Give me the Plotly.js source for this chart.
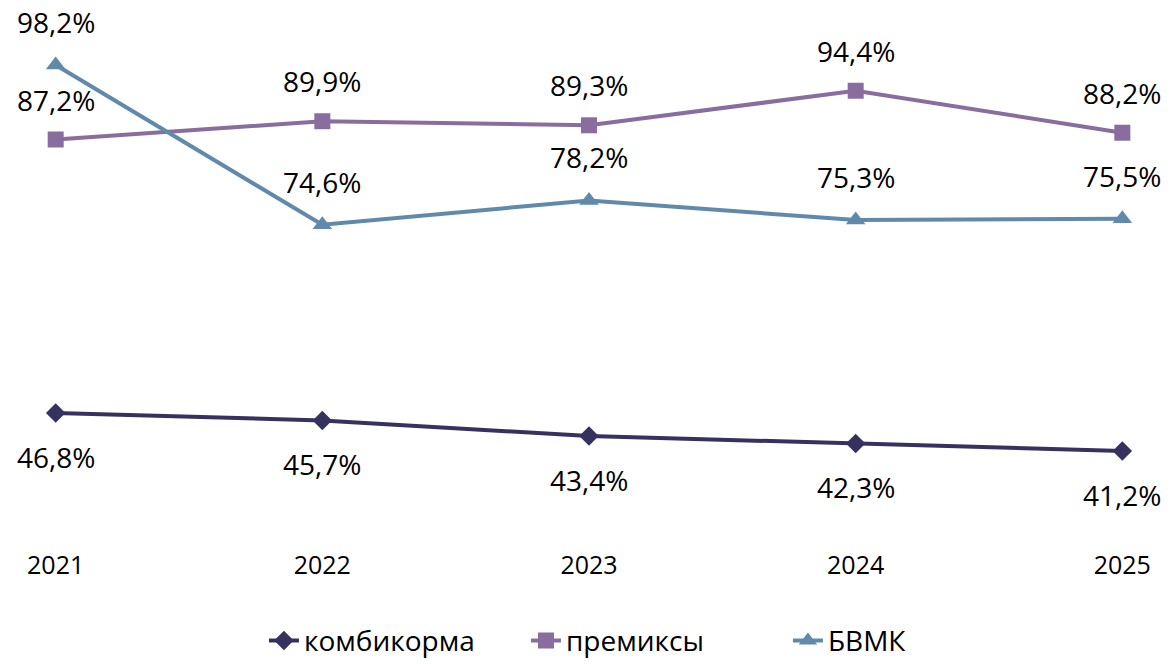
<!DOCTYPE html>
<html>
<head>
<meta charset="utf-8">
<script src="https://cdn.plot.ly/plotly-3.0.1.min.js"></script>
<style>html,body{margin:0;padding:0;background:#fff;}#chart{width:1170px;height:664px;}</style>
</head>
<body>
<div id="chart"></div>
<script>
const years = ["2021", "2022", "2023", "2024", "2025"];
const kombikorma = [46.8, 45.7, 43.4, 42.3, 41.2];
const premiksy = [87.2, 89.9, 89.3, 94.4, 88.2];
const bvmk = [98.2, 74.6, 78.2, 75.3, 75.5];
const seriesNames = ["комбикорма", "премиксы", "БВМК"];

const colors = ["#35325f", "#8a6d9f", "#6089ab"];
const symbols = ["diamond", "square", "triangle-up"];
const sizes = [15, 16, 17];
const shifts = [-44, 40, 43];
const data = [kombikorma, premiksy, bvmk];

const traces = data.map((vals, k) => ({
  type: "scatter",
  mode: "lines+markers",
  name: seriesNames[k],
  x: years,
  y: vals,
  line: {color: colors[k], width: 4},
  marker: {color: colors[k], symbol: symbols[k], size: sizes[k]},
  cliponaxis: false,
  hoverinfo: "none"
}));

const fmt = v => v.toFixed(1).replace(".", ",") + "%";
const annotations = [];
data.forEach((vals, k) => {
  vals.forEach((v, i) => {
    annotations.push({
      x: i, y: v, xref: "x", yref: "y",
      text: fmt(v), showarrow: false, yshift: shifts[k],
      font: {family: "Open Sans", size: 28, color: "#000"}
    });
  });
});

const layout = {
  width: 1170, height: 664,
  margin: {l: 29, r: 21, t: 19, b: 116},
  paper_bgcolor: "#fff", plot_bgcolor: "#fff",
  showlegend: true,
  legend: {
    orientation: "h", xref: "container", yref: "container",
    x: 0.2256, xanchor: "left", y: 0.035, yanchor: "middle",
    font: {family: "Open Sans", size: 28, color: "#000"},
    entrywidth: 217, entrywidthmode: "pixels",
    itemclick: false
  },
  xaxis: {
    type: "category", range: [-0.1, 4.1],
    showgrid: false, zeroline: false, showline: false, ticks: "",
    tickfont: {family: "Open Sans", size: 25, color: "#000"},
    fixedrange: true
  },
  yaxis: {
    range: [26.86, 105], visible: false, showgrid: false, zeroline: false, fixedrange: true
  },
  annotations: annotations
};

Plotly.newPlot("chart", traces, layout, {displayModeBar: false, staticPlot: true});
</script>
</body>
</html>
